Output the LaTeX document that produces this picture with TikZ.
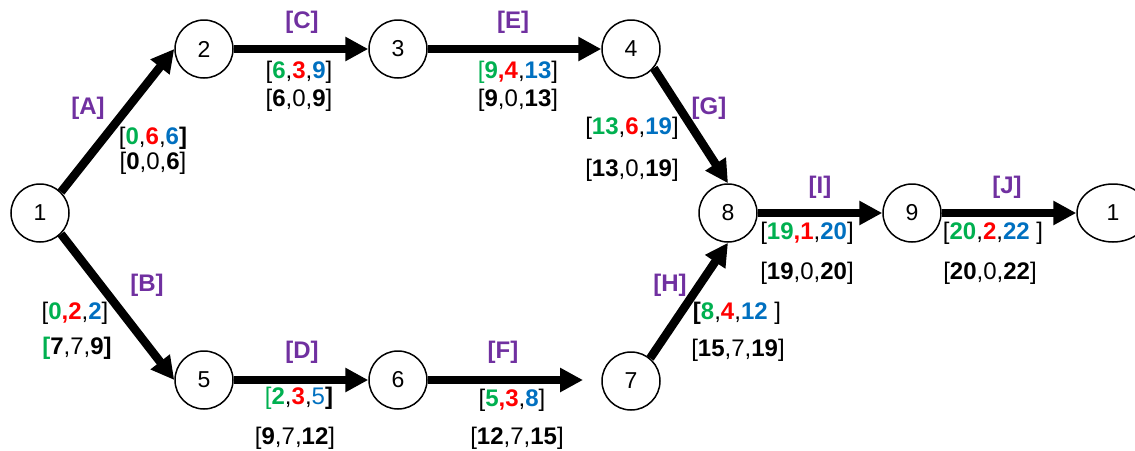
\documentclass[tikz,border=0pt]{standalone}
\usepackage{fontspec}
\setmainfont{Liberation Sans}
\usetikzlibrary{arrows.meta,shapes.geometric}
\definecolor{cgreen}{HTML}{00B050}
\definecolor{cred}{HTML}{FF0000}
\definecolor{cblue}{HTML}{0070C0}
\definecolor{cpurple}{HTML}{7030A0}
\newcommand{\gn}[1]{\textcolor{cgreen}{\textbf{#1}}}
\newcommand{\rdd}[1]{\textcolor{cred}{\textbf{#1}}}
\newcommand{\blu}[1]{\textcolor{cblue}{\textbf{#1}}}
\begin{document}
\begin{tikzpicture}[x=1pt,y=-1pt,
  ev/.style={circle,draw,line width=1.5pt,minimum size=58pt,inner sep=0pt,font=\fontsize{23}{27}\selectfont},
  act/.style={line width=8.5pt,-{Triangle[length=23pt,width=23pt]}},
  tag/.style={inner sep=0pt,font=\fontsize{24}{28}\selectfont\bfseries,text=cpurple},
  val/.style={inner sep=0pt,font=\fontsize{24}{28}\selectfont}]
\useasboundingbox (0,0) rectangle (1135,450);
\node[ev] (n1) at (40,213) {1};
\node[ev] (n2) at (204,49) {2};
\node[ev] (n3) at (398,49) {3};
\node[ev] (n4) at (631,49) {4};
\node[ev] (n5) at (204,380) {5};
\node[ev] (n6) at (398,380) {6};
\node[ev] (n7) at (631,381) {7};
\node[ev] (n8) at (728,213) {8};
\node[ev] (n9) at (912,213) {9};
\node[ev,ellipse,minimum width=72pt,minimum height=58pt] (n10) at (1113,213) {1};
\coordinate (f7) at (583,380);
\draw[act] (n1.45) -- (n2.west);
\draw[act] (n2) -- (n3);
\draw[act] (n3) -- (n4);
\draw[act] (n4.-40) -- (n8.north);
\draw[act] (n1.-45) -- (n5.west);
\draw[act] (n5) -- (n6);
\draw[act] (n6) -- (f7);
\draw[act] (n7.50) -- (n8.south);
\draw[act] (n8) -- (n9);
\draw[act] (n9) -- (n10);
% activity tags
\node[tag] (tA) at (88,108) {[A]};
\node[tag] (tB) at (147,285) {[B]};
\node[tag] (tC) at (302,22) {[C]};
\node[tag] (tD) at (302,352) {[D]};
\node[tag] (tE) at (513,22) {[E]};
\node[tag] (tF) at (503,352) {[F]};
\node[tag] (tG) at (709,108) {[G]};
\node[tag] (tH) at (670,285) {[H]};
\node[tag] (tI) at (820,187) {[I]};
\node[tag] (tJ) at (1007,187) {[J]};
% values
\node[val] (vA1) at (153,138) {[\gn{0},\rdd{6},\blu{6}\textbf{]}};
\node[val] (vA2) at (153,163) {[\textbf{0},0,\textbf{6}]};
\node[val] (vC1) at (299,72) {[\gn{6},\rdd{3},\blu{9}]};
\node[val] (vC2) at (299,100) {[\textbf{6},0,\textbf{9}]};
\node[val] (vE1) at (518,72) {\textcolor{cgreen}{[}\gn{9}\rdd{,4},\blu{13}]};
\node[val] (vE2) at (518,100) {[\textbf{9},0,\textbf{13}]};
\node[val] (vG1) at (632,128) {[\gn{13},\rdd{6},\blu{19}]};
\node[val] (vG2) at (632,170) {[\textbf{13},0,\textbf{19}]};
\node[val] (vI1) at (807,233) {[\gn{19}\rdd{,1},\blu{20}]};
\node[val] (vI2) at (807,273) {[\textbf{19},0,\textbf{20}]};
\node[val] (vJ1) at (993,233) {[\gn{20},\rdd{2},\blu{22} ]};
\node[val] (vJ2) at (990,273) {[\textbf{20},0,\textbf{22}]};
\node[val] (vH1) at (737,313) {\textbf{[}\gn{8},\rdd{4},\blu{12} ]};
\node[val] (vH2) at (738,350) {[\textbf{15},7,\textbf{19}]};
\node[val] (vB1) at (75,313) {[\gn{0}\rdd{,2},\blu{2}]};
\node[val] (vB2) at (77,348) {\textcolor{cgreen}{\textbf{[}}\textbf{7},7,\textbf{9]}};
\node[val] (vD1) at (299,398) {\textcolor{cgreen}{[}\gn{2},\rdd{3},\textcolor{cblue}{5}\textbf{]}};
\node[val] (vD2) at (295,438) {[\textbf{9},7,\textbf{12}]};
\node[val] (vF1) at (512,400) {[\gn{5}\rdd{,3},\blu{8}]};
\node[val] (vF2) at (517,438) {[\textbf{12},7,\textbf{15}]};
\end{tikzpicture}
\end{document}
